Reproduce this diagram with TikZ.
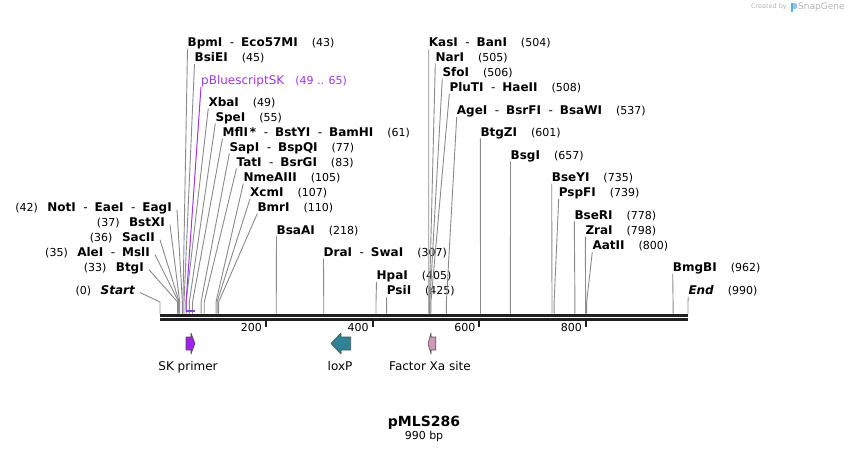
\documentclass[tikz,border=0pt]{standalone}
\usepackage{fontspec}
\setmainfont{DejaVu Sans}
\usetikzlibrary{calc}

\definecolor{leadgray}{HTML}{8A8A8A}
\definecolor{backbone}{HTML}{1F1F1F}
\definecolor{labpurple}{HTML}{A035E8}
\definecolor{skpurple}{HTML}{A020F0}
\definecolor{loxteal}{HTML}{2E8397}
\definecolor{xapink}{HTML}{CC99BB}
\definecolor{featline}{HTML}{505050}
\definecolor{wmgray}{HTML}{B4B4B4}
\definecolor{logoblue}{HTML}{5AAEE0}

\newcommand{\cutsep}{\hspace{7.5pt}{\mdseries-}\hspace{7pt}}
\newcommand{\posr}[1]{\hspace{14pt}{\mdseries\upshape\fontsize{11}{13}\selectfont(#1)}}
\newcommand{\posl}[1]{{\mdseries\upshape\fontsize{11}{13}\selectfont(#1)}\hspace{9.5pt}}

\begin{document}
\begin{tikzpicture}[x=1pt,y=-1pt,
  enzr/.style={anchor=west,inner xsep=0pt,inner ysep=2.2pt,text height=9pt,text depth=0pt,font=\bfseries\fontsize{12}{14}\selectfont},
  enzl/.style={enzr,anchor=east,inner xsep=5pt},
  leader/.style={draw=leadgray,line width=0.9pt},
  feat/.style={draw=featline,line width=0.6pt,line join=round},
  featlbl/.style={inner sep=0pt,text height=9pt,text depth=0pt,font=\fontsize{12}{14}\selectfont},
  ticklbl/.style={anchor=east,inner sep=0pt,text height=8pt,text depth=0pt,font=\fontsize{11}{13}\selectfont}]

\useasboundingbox (0,0) rectangle (849,453);

% watermark
\node[anchor=east,inner sep=0pt,text=wmgray,font=\fontsize{6.5}{8}\selectfont] (wmtext) at (787,7) {Created by};
\fill[logoblue] (791,2.5) rectangle (793,12);
\fill[logoblue!70] (793,2.5) -- (797,4) -- (797,8) -- (793,9.5) -- cycle;
\node[anchor=west,inner sep=0pt,text=wmgray,font=\fontsize{9}{11}\selectfont] (wmname) at (798,7) {SnapGene};

% backbone
\coordinate (bbA) at (160,315.3);
\coordinate (bbB) at (688,315.3);
\coordinate (bbC) at (160,319.5);
\coordinate (bbD) at (688,319.5);
\draw[backbone,line width=2.7pt] (bbA) -- (bbB);
\draw[backbone,line width=2.4pt] (bbC) -- (bbD);

% ticks
\foreach \t in {200,400,600,800}{
  \draw[backbone,line width=2pt] ({160+\t*0.53333-0.7},320.7) -- ++(0,6);
  \node[ticklbl] (tick\t) at ({160+\t*0.53333-4.5},327.5) {\t};
}

% sites, right side
\node[enzr] (bpmi) at (187.5,42) {BpmI\cutsep Eco57MI\posr{43}};
\node[enzr] (bsiei) at (194.5,57) {BsiEI\posr{45}};
\node[enzr,text=labpurple,font=\fontsize{12}{14}\selectfont] (pbs) at (201,80) {pBluescriptSK\hspace{11pt}{\fontsize{11}{13}\selectfont(49 .. 65)}};
\node[enzr] (xbai) at (208.3,101.5) {XbaI\posr{49}};
\node[enzr] (spei) at (215.3,116.5) {SpeI\posr{55}};
\node[enzr] (mfli) at (222.5,131.5) {MflI\,*\cutsep BstYI\cutsep BamHI\posr{61}};
\node[enzr] (sapi) at (229.3,146.5) {SapI\cutsep BspQI\posr{77}};
\node[enzr] (tati) at (236.5,161.5) {TatI\cutsep BsrGI\posr{83}};
\node[enzr] (nmeaiii) at (243.3,176.7) {NmeAIII\posr{105}};
\node[enzr] (xcmi) at (250,192) {XcmI\posr{107}};
\node[enzr] (bmri) at (257.3,206.7) {BmrI\posr{110}};
\node[enzr] (bsaai) at (276.5,229.5) {BsaAI\posr{218}};
\node[enzr] (drai) at (323.5,251.7) {DraI\cutsep SwaI\posr{307}};
\node[enzr] (hpai) at (376.5,275) {HpaI\posr{405}};
\node[enzr] (psii) at (386.7,290) {PsiI\posr{425}};
\node[enzr] (kasi) at (428.7,42.3) {KasI\cutsep BanI\posr{504}};
\node[enzr] (nari) at (435.3,56.7) {NarI\posr{505}};
\node[enzr] (sfoi) at (442.3,71.7) {SfoI\posr{506}};
\node[enzr] (pluti) at (449.3,87.3) {PluTI\cutsep HaeII\posr{508}};
\node[enzr] (agei) at (456.7,110) {AgeI\cutsep BsrFI\cutsep BsaWI\posr{537}};
\node[enzr] (btgzi) at (480.3,131.5) {BtgZI\posr{601}};
\node[enzr] (bsgi) at (510.5,154.5) {BsgI\posr{657}};
\node[enzr] (bseyi) at (551.7,176.7) {BseYI\posr{735}};
\node[enzr] (pspfi) at (558.7,192.3) {PspFI\posr{739}};
\node[enzr] (bseri) at (574.3,214.5) {BseRI\posr{778}};
\node[enzr] (zrai) at (585.3,230) {ZraI\posr{798}};
\node[enzr] (aatii) at (592.3,245) {AatII\posr{800}};
\node[enzr] (bmgbi) at (672.7,266.7) {BmgBI\posr{962}};
\node[enzr] (endp) at (688.3,290) {{\itshape End}\posr{990}};

% sites, left side
\node[enzl] (noti) at (177,206.7) {\posl{42}NotI\cutsep EaeI\cutsep EagI};
\node[enzl] (bstxi) at (170,221.7) {\posl{37}BstXI};
\node[enzl] (sacii) at (160,236.7) {\posl{36}SacII};
\node[enzl] (alei) at (155,251.7) {\posl{35}AleI\cutsep MslI};
\node[enzl] (btgi) at (149,266.7) {\posl{33}BtgI};
\node[enzl] (startp) at (140,289.5) {\posl{0}{\itshape Start}};

% leaders
\foreach \n/\b in {bpmi/43,bsiei/45,xbai/49,spei/55,mfli/61,sapi/77,tati/83,nmeaiii/105,xcmi/107,bmri/110,bsaai/218,drai/307,hpai/405,psii/425,kasi/504,nari/505,sfoi/506,pluti/508,agei/537,btgzi/601,bsgi/657,bseyi/735,pspfi/739,bseri/778,zrai/798,aatii/800,bmgbi/962,endp/990}{
  \coordinate (k\n) at ({160+\b*0.53333},302);
  \coordinate (c\n) at ({160+\b*0.53333},313.5);
  \draw[leader] (\n.south west) -- (k\n) -- (c\n);
}
\foreach \n/\b in {noti/42,bstxi/37,sacii/36,alei/35,btgi/33,startp/0}{
  \coordinate (k\n) at ({160+\b*0.53333},302);
  \coordinate (c\n) at ({160+\b*0.53333},313.5);
  \draw[leader] ([yshift=-3pt]\n.east) -- (k\n) -- (c\n);
}

% pBluescriptSK span
\coordinate (kpbs) at (186.1,302);
\coordinate (pbsA) at (186.1,310.5);
\coordinate (pbsB) at (194.7,310.5);
\draw[labpurple,line width=1pt] (pbs.south west) -- (kpbs) -- (pbsA);
\draw[labpurple,line width=2pt] (pbsA) -- (pbsB);

% features
\draw[feat,fill=skpurple] (186,337) -- (191,337) -- (191,333) -- (195,343.5) -- (191,354) -- (191,350) -- (186,350) -- cycle;
\draw[feat,fill=loxteal] (331,343.5) -- (341,333) -- (341,337) -- (350.7,337) -- (350.7,350) -- (341,350) -- (341,354) -- cycle;
\draw[feat,fill=xapink] (428,343.5) -- (431,333) -- (431,337) -- (435.7,337) -- (435.7,350) -- (431,350) -- (431,354) -- cycle;
\node[featlbl] (skprimer) at (188,365.5) {SK primer};
\node[featlbl] (loxp) at (340,365.5) {loxP};
\node[featlbl] (factorxa) at (430,365.5) {Factor Xa site};

% title
\node[inner sep=0pt,font=\bfseries\fontsize{14}{16}\selectfont] (title) at (424,422.3) {pMLS286};
\node[inner sep=0pt,font=\fontsize{11}{13}\selectfont] (bpsize) at (424,436.5) {990 bp};

\end{tikzpicture}
\end{document}
